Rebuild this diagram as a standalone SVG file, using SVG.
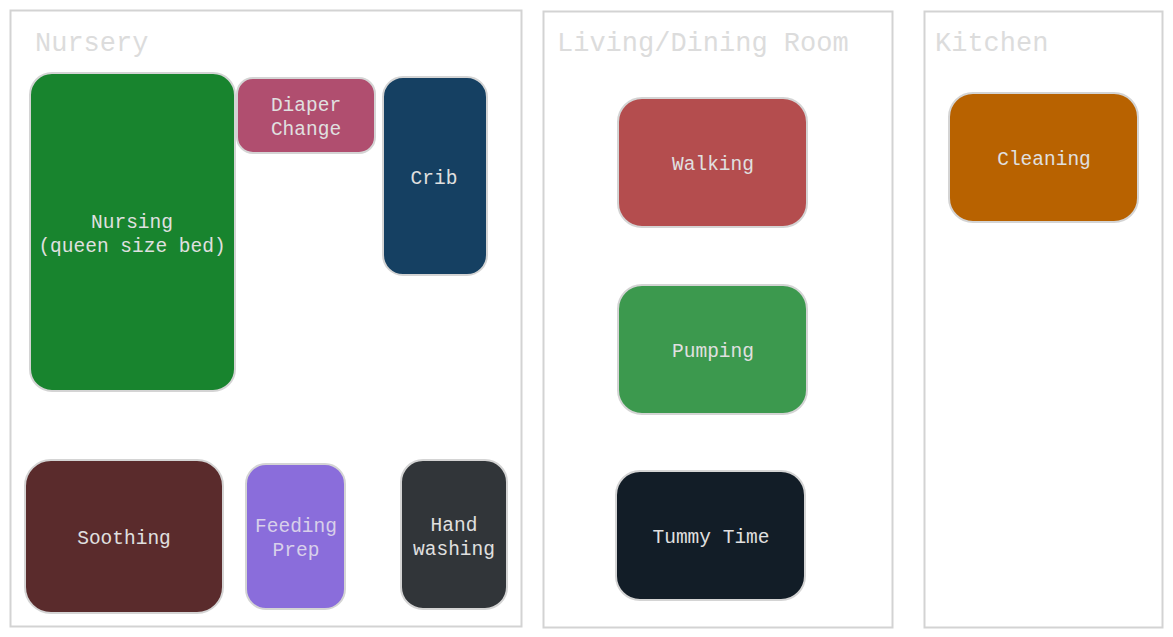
<svg xmlns="http://www.w3.org/2000/svg" width="1173" height="637" viewBox="0 0 1173 637">
<style>
.room{fill:#ffffff;stroke:#d3d3d3;stroke-width:2}
.title{font-family:"Liberation Mono","DejaVu Sans Mono",monospace;font-size:27px;fill:#dcdcdc}
.node{stroke:#d4d4d4;stroke-width:2}
.lbl{font-family:"Liberation Mono","DejaVu Sans Mono",monospace;font-size:19.5px;fill:#e0e0e0;text-anchor:middle;dominant-baseline:central}
.lbl2{fill:#d8d0ea}
</style>
<rect width="1173" height="637" fill="#ffffff"/>
<g id="room-nursery">
<rect class="room" x="10.5" y="10.5" width="511" height="616"/>
<text class="title" x="35" y="51">Nursery</text>
</g>
<g id="room-living">
<rect class="room" x="543.5" y="11.5" width="349" height="616"/>
<text class="title" x="557" y="51">Living/Dining Room</text>
</g>
<g id="room-kitchen">
<rect class="room" x="924.5" y="11.5" width="238" height="616"/>
<text class="title" x="935" y="51">Kitchen</text>
</g>
<g id="connectors"></g>
<g id="nursing">
<rect class="node" x="30" y="73" width="205" height="318" rx="22" fill="#18842e"/>
<text class="lbl" x="132" y="222.5">Nursing</text>
<text class="lbl" x="132" y="246.5">(queen size bed)</text>
</g>
<g id="diaper-change">
<rect class="node" x="237" y="78" width="138" height="75" rx="16" fill="#b04e6f"/>
<text class="lbl" x="306" y="105.5">Diaper</text>
<text class="lbl" x="306" y="129.5">Change</text>
</g>
<g id="crib">
<rect class="node" x="383" y="77" width="104" height="198" rx="20" fill="#154062"/>
<text class="lbl" x="434" y="178.5">Crib</text>
</g>
<g id="soothing">
<rect class="node" x="25" y="460" width="198" height="153" rx="26" fill="#5a2b2c"/>
<text class="lbl" x="124" y="538.5">Soothing</text>
</g>
<g id="feeding-prep">
<rect class="node" x="246" y="464" width="99" height="145" rx="20" fill="#8a6ddb"/>
<text class="lbl lbl2" x="296" y="526.5" style="fill:#d8d0ea">Feeding</text>
<text class="lbl lbl2" x="296" y="550.5" style="fill:#d8d0ea">Prep</text>
</g>
<g id="hand-washing">
<rect class="node" x="401" y="460" width="106" height="149" rx="22" fill="#313539"/>
<text class="lbl" x="454" y="525.5">Hand</text>
<text class="lbl" x="454" y="549.5">washing</text>
</g>
<g id="walking">
<rect class="node" x="618" y="98" width="189" height="129" rx="24" fill="#b44d4e"/>
<text class="lbl" x="713" y="164.5">Walking</text>
</g>
<g id="pumping">
<rect class="node" x="618" y="285" width="189" height="129" rx="24" fill="#3c994e"/>
<text class="lbl" x="713" y="351.5">Pumping</text>
</g>
<g id="tummy-time">
<rect class="node" x="616" y="471" width="189" height="129" rx="24" fill="#121d27"/>
<text class="lbl" x="711" y="537.5">Tummy Time</text>
</g>
<g id="cleaning">
<rect class="node" x="949" y="93" width="189" height="129" rx="24" fill="#b86200"/>
<text class="lbl" x="1044" y="159.5">Cleaning</text>
</g>
</svg>
